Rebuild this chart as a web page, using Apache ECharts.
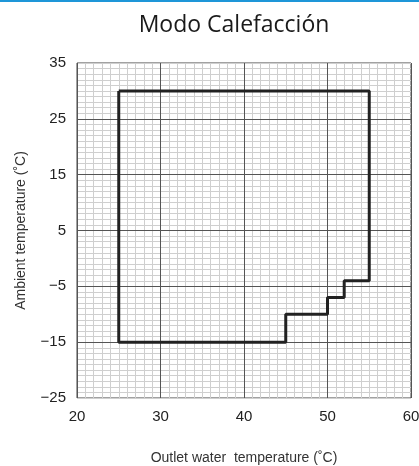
<!DOCTYPE html>
<html><head><meta charset="utf-8">
<script src="https://cdn.jsdelivr.net/npm/echarts@6/dist/echarts.min.js"></script>
<style>html,body{margin:0;padding:0;background:#fff}#c{width:419px;height:466px}</style>
</head><body><div id="c"></div>
<script>
var outletTemp = [25, 55, 55, 52, 52, 50, 50, 45, 45, 25, 25];
var ambientTemp = [30, 30, -4, -4, -7, -7, -10, -10, -15, -15, 30];
var xMajor = [30, 40, 50];
var yMajor = [-15, -5, 5, 15, 25];
var yLabels = [-25, -15, -5, 5, 15, 25, 35];

var chart = echarts.init(document.getElementById('c'));
var majorLines = [];
xMajor.forEach(function (v) { majorLines.push({ xAxis: v }); });
yMajor.forEach(function (v) { majorLines.push({ yAxis: v }); });

var tickFont = 'Liberation Sans';

chart.setOption({
  animation: false,
  title: {
    text: 'Modo Calefacción', left: 229, top: 9, textAlign: 'center',
    textStyle: { fontFamily: 'Open Sans', fontWeight: 'normal', fontSize: 23, color: '#1a1a1a' }
  },
  graphic: [{ type: 'rect', shape: { x: 0, y: 0, width: 419, height: 2 }, style: { fill: '#1e96d8' } }],
  grid: { left: 77, right: 8, top: 63, bottom: 68, show: true, borderColor: '#444', borderWidth: 1,
          containLabel: false, outerBoundsMode: 'none' },
  xAxis: {
    type: 'value', min: 20, max: 60, interval: 10,
    name: 'Outlet water  temperature (˚C)', nameLocation: 'middle', nameGap: 53,
    nameTextStyle: { fontFamily: 'Liberation Sans', fontSize: 14, color: '#333' },
    axisLine: { show: false }, axisTick: { show: false },
    axisLabel: { fontFamily: tickFont, fontSize: 15, color: '#222', margin: 11 },
    splitLine: { show: true, lineStyle: { color: '#555', width: 1 } },
    minorTick: { show: false, splitNumber: 10 },
    minorSplitLine: { show: true, lineStyle: { color: '#cfcfcf', width: 1 } }
  },
  yAxis: {
    type: 'value', min: -25, max: 35, interval: 1,
    name: 'Ambient temperature (˚C)', nameLocation: 'middle', nameGap: 49, nameRotate: 90,
    nameTextStyle: { fontFamily: 'Liberation Sans', fontSize: 14, color: '#333' },
    axisLine: { show: false }, axisTick: { show: false },
    axisLabel: {
      interval: 0, fontFamily: tickFont, fontSize: 15, color: '#222', margin: 11,
      formatter: function (v) {
        return yLabels.indexOf(Math.round(v)) >= 0 ? String(Math.round(v)).replace('-', '\u2212') : '';
      }
    },
    splitLine: { show: true, lineStyle: { color: '#cfcfcf', width: 1 } }
  },
  series: [{
    type: 'line', data: outletTemp.map(function (x, i) { return [x, ambientTemp[i]]; }),
    symbol: 'none', lineStyle: { color: '#222', width: 3 }, z: 5,
    markLine: {
      silent: true, symbol: 'none', label: { show: false },
      lineStyle: { color: '#555', width: 1, type: 'solid' }, data: majorLines, z: 3
    }
  }]
});
</script></body></html>
